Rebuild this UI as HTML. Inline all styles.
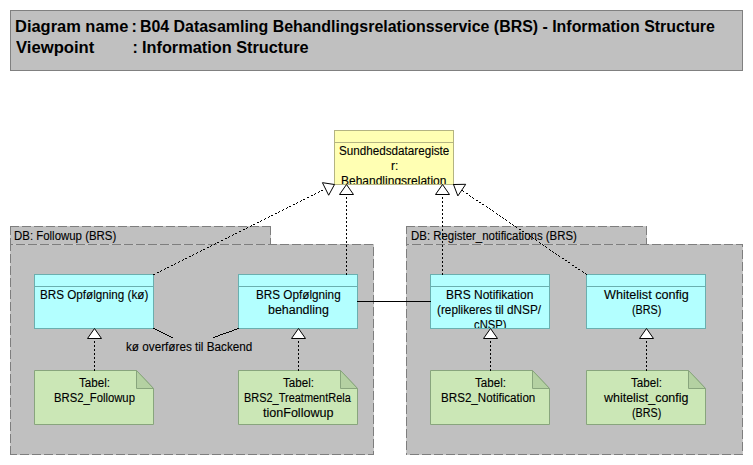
<!DOCTYPE html>
<html><head><meta charset="utf-8">
<style>
html,body{margin:0;padding:0;background:#fff;width:753px;height:465px;overflow:hidden;position:relative}
body{font-family:"Liberation Sans",sans-serif}
svg{position:absolute;left:0;top:0}
.tx,.hb{position:absolute;white-space:pre;line-height:40px;transform-origin:0 0}
.tx{font-size:12px;color:#000;-webkit-text-stroke:0.12px #000}
.hb{font-size:16px;font-weight:bold;color:#000}
.clip{position:absolute;overflow:hidden}
</style></head><body>
<svg width="753" height="465" viewBox="0 0 753 465" shape-rendering="crispEdges">
<rect x="10.5" y="10.5" width="732" height="60" fill="#c0c0c0" stroke="#808080"/>
<rect x="11" y="227" width="259" height="18" fill="#c0c0c0"/>
<rect x="11" y="245" width="362" height="209" fill="#c0c0c0"/>
<path d="M19 226h3v1h-3zM31 226h3v1h-3zM43 226h3v1h-3zM55 226h3v1h-3zM67 226h3v1h-3zM79 226h3v1h-3zM91 226h3v1h-3zM103 226h3v1h-3zM115 226h3v1h-3zM127 226h3v1h-3zM139 226h3v1h-3zM151 226h3v1h-3zM163 226h3v1h-3zM175 226h3v1h-3zM187 226h3v1h-3zM199 226h3v1h-3zM211 226h3v1h-3zM223 226h3v1h-3zM235 226h3v1h-3zM247 226h3v1h-3zM259 226h3v1h-3zM10 235h1v1h-1zM270 235h1v1h-1zM10 236h1v1h-1zM270 236h1v1h-1zM10 237h1v1h-1zM270 237h1v1h-1zM13 244h3v1h-3zM25 244h3v1h-3zM37 244h3v1h-3zM49 244h3v1h-3zM61 244h3v1h-3zM73 244h3v1h-3zM85 244h3v1h-3zM97 244h3v1h-3zM109 244h3v1h-3zM121 244h3v1h-3zM133 244h3v1h-3zM145 244h3v1h-3zM157 244h3v1h-3zM169 244h3v1h-3zM181 244h3v1h-3zM193 244h3v1h-3zM205 244h3v1h-3zM217 244h3v1h-3zM229 244h3v1h-3zM241 244h3v1h-3zM253 244h3v1h-3zM265 244h3v1h-3zM277 244h3v1h-3zM289 244h3v1h-3zM301 244h3v1h-3zM313 244h3v1h-3zM325 244h3v1h-3zM337 244h3v1h-3zM349 244h3v1h-3zM361 244h3v1h-3zM373 244h1v1h-1zM373 245h1v1h-1zM373 246h1v1h-1zM10 251h1v1h-1zM10 252h1v1h-1zM10 253h1v1h-1zM373 256h1v1h-1zM373 257h1v1h-1zM373 258h1v1h-1zM10 263h1v1h-1zM10 264h1v1h-1zM10 265h1v1h-1zM373 268h1v1h-1zM373 269h1v1h-1zM373 270h1v1h-1zM10 275h1v1h-1zM10 276h1v1h-1zM10 277h1v1h-1zM373 280h1v1h-1zM373 281h1v1h-1zM373 282h1v1h-1zM10 287h1v1h-1zM10 288h1v1h-1zM10 289h1v1h-1zM373 292h1v1h-1zM373 293h1v1h-1zM373 294h1v1h-1zM10 299h1v1h-1zM10 300h1v1h-1zM10 301h1v1h-1zM373 304h1v1h-1zM373 305h1v1h-1zM373 306h1v1h-1zM10 311h1v1h-1zM10 312h1v1h-1zM10 313h1v1h-1zM373 316h1v1h-1zM373 317h1v1h-1zM373 318h1v1h-1zM10 323h1v1h-1zM10 324h1v1h-1zM10 325h1v1h-1zM373 328h1v1h-1zM373 329h1v1h-1zM373 330h1v1h-1zM10 335h1v1h-1zM10 336h1v1h-1zM10 337h1v1h-1zM373 340h1v1h-1zM373 341h1v1h-1zM373 342h1v1h-1zM10 347h1v1h-1zM10 348h1v1h-1zM10 349h1v1h-1zM373 352h1v1h-1zM373 353h1v1h-1zM373 354h1v1h-1zM10 359h1v1h-1zM10 360h1v1h-1zM10 361h1v1h-1zM373 364h1v1h-1zM373 365h1v1h-1zM373 366h1v1h-1zM10 371h1v1h-1zM10 372h1v1h-1zM10 373h1v1h-1zM373 376h1v1h-1zM373 377h1v1h-1zM373 378h1v1h-1zM10 383h1v1h-1zM10 384h1v1h-1zM10 385h1v1h-1zM373 388h1v1h-1zM373 389h1v1h-1zM373 390h1v1h-1zM10 395h1v1h-1zM10 396h1v1h-1zM10 397h1v1h-1zM373 400h1v1h-1zM373 401h1v1h-1zM373 402h1v1h-1zM10 407h1v1h-1zM10 408h1v1h-1zM10 409h1v1h-1zM373 412h1v1h-1zM373 413h1v1h-1zM373 414h1v1h-1zM10 419h1v1h-1zM10 420h1v1h-1zM10 421h1v1h-1zM373 424h1v1h-1zM373 425h1v1h-1zM373 426h1v1h-1zM10 431h1v1h-1zM10 432h1v1h-1zM10 433h1v1h-1zM373 436h1v1h-1zM373 437h1v1h-1zM373 438h1v1h-1zM10 443h1v1h-1zM10 444h1v1h-1zM10 445h1v1h-1zM373 448h1v1h-1zM373 449h1v1h-1zM373 450h1v1h-1zM17 454h3v1h-3zM29 454h3v1h-3zM41 454h3v1h-3zM53 454h3v1h-3zM65 454h3v1h-3zM77 454h3v1h-3zM89 454h3v1h-3zM101 454h3v1h-3zM113 454h3v1h-3zM125 454h3v1h-3zM137 454h3v1h-3zM149 454h3v1h-3zM161 454h3v1h-3zM173 454h3v1h-3zM185 454h3v1h-3zM197 454h3v1h-3zM209 454h3v1h-3zM221 454h3v1h-3zM233 454h3v1h-3zM245 454h3v1h-3zM257 454h3v1h-3zM269 454h3v1h-3zM281 454h3v1h-3zM293 454h3v1h-3zM305 454h3v1h-3zM317 454h3v1h-3zM329 454h3v1h-3zM341 454h3v1h-3zM353 454h3v1h-3zM365 454h3v1h-3z" fill="#cacaca"/>
<path d="M10 226h9v1h-9zM22 226h9v1h-9zM34 226h9v1h-9zM46 226h9v1h-9zM58 226h9v1h-9zM70 226h9v1h-9zM82 226h9v1h-9zM94 226h9v1h-9zM106 226h9v1h-9zM118 226h9v1h-9zM130 226h9v1h-9zM142 226h9v1h-9zM154 226h9v1h-9zM166 226h9v1h-9zM178 226h9v1h-9zM190 226h9v1h-9zM202 226h9v1h-9zM214 226h9v1h-9zM226 226h9v1h-9zM238 226h9v1h-9zM250 226h9v1h-9zM262 226h9v1h-9zM10 227h1v1h-1zM270 227h1v1h-1zM10 228h1v1h-1zM270 228h1v1h-1zM10 229h1v1h-1zM270 229h1v1h-1zM10 230h1v1h-1zM270 230h1v1h-1zM10 231h1v1h-1zM270 231h1v1h-1zM10 232h1v1h-1zM270 232h1v1h-1zM10 233h1v1h-1zM270 233h1v1h-1zM10 234h1v1h-1zM270 234h1v1h-1zM10 238h1v1h-1zM270 238h1v1h-1zM10 239h1v1h-1zM270 239h1v1h-1zM10 240h1v1h-1zM270 240h1v1h-1zM10 241h1v1h-1zM270 241h1v1h-1zM10 242h1v1h-1zM270 242h1v1h-1zM10 243h1v1h-1zM270 243h1v1h-1zM10 244h3v1h-3zM16 244h9v1h-9zM28 244h9v1h-9zM40 244h9v1h-9zM52 244h9v1h-9zM64 244h9v1h-9zM76 244h9v1h-9zM88 244h9v1h-9zM100 244h9v1h-9zM112 244h9v1h-9zM124 244h9v1h-9zM136 244h9v1h-9zM148 244h9v1h-9zM160 244h9v1h-9zM172 244h9v1h-9zM184 244h9v1h-9zM196 244h9v1h-9zM208 244h9v1h-9zM220 244h9v1h-9zM232 244h9v1h-9zM244 244h9v1h-9zM256 244h9v1h-9zM268 244h9v1h-9zM280 244h9v1h-9zM292 244h9v1h-9zM304 244h9v1h-9zM316 244h9v1h-9zM328 244h9v1h-9zM340 244h9v1h-9zM352 244h9v1h-9zM364 244h9v1h-9zM10 245h1v1h-1zM10 246h1v1h-1zM10 247h1v1h-1zM373 247h1v1h-1zM10 248h1v1h-1zM373 248h1v1h-1zM10 249h1v1h-1zM373 249h1v1h-1zM10 250h1v1h-1zM373 250h1v1h-1zM373 251h1v1h-1zM373 252h1v1h-1zM373 253h1v1h-1zM10 254h1v1h-1zM373 254h1v1h-1zM10 255h1v1h-1zM373 255h1v1h-1zM10 256h1v1h-1zM10 257h1v1h-1zM10 258h1v1h-1zM10 259h1v1h-1zM373 259h1v1h-1zM10 260h1v1h-1zM373 260h1v1h-1zM10 261h1v1h-1zM373 261h1v1h-1zM10 262h1v1h-1zM373 262h1v1h-1zM373 263h1v1h-1zM373 264h1v1h-1zM373 265h1v1h-1zM10 266h1v1h-1zM373 266h1v1h-1zM10 267h1v1h-1zM373 267h1v1h-1zM10 268h1v1h-1zM10 269h1v1h-1zM10 270h1v1h-1zM10 271h1v1h-1zM373 271h1v1h-1zM10 272h1v1h-1zM373 272h1v1h-1zM10 273h1v1h-1zM373 273h1v1h-1zM10 274h1v1h-1zM373 274h1v1h-1zM373 275h1v1h-1zM373 276h1v1h-1zM373 277h1v1h-1zM10 278h1v1h-1zM373 278h1v1h-1zM10 279h1v1h-1zM373 279h1v1h-1zM10 280h1v1h-1zM10 281h1v1h-1zM10 282h1v1h-1zM10 283h1v1h-1zM373 283h1v1h-1zM10 284h1v1h-1zM373 284h1v1h-1zM10 285h1v1h-1zM373 285h1v1h-1zM10 286h1v1h-1zM373 286h1v1h-1zM373 287h1v1h-1zM373 288h1v1h-1zM373 289h1v1h-1zM10 290h1v1h-1zM373 290h1v1h-1zM10 291h1v1h-1zM373 291h1v1h-1zM10 292h1v1h-1zM10 293h1v1h-1zM10 294h1v1h-1zM10 295h1v1h-1zM373 295h1v1h-1zM10 296h1v1h-1zM373 296h1v1h-1zM10 297h1v1h-1zM373 297h1v1h-1zM10 298h1v1h-1zM373 298h1v1h-1zM373 299h1v1h-1zM373 300h1v1h-1zM373 301h1v1h-1zM10 302h1v1h-1zM373 302h1v1h-1zM10 303h1v1h-1zM373 303h1v1h-1zM10 304h1v1h-1zM10 305h1v1h-1zM10 306h1v1h-1zM10 307h1v1h-1zM373 307h1v1h-1zM10 308h1v1h-1zM373 308h1v1h-1zM10 309h1v1h-1zM373 309h1v1h-1zM10 310h1v1h-1zM373 310h1v1h-1zM373 311h1v1h-1zM373 312h1v1h-1zM373 313h1v1h-1zM10 314h1v1h-1zM373 314h1v1h-1zM10 315h1v1h-1zM373 315h1v1h-1zM10 316h1v1h-1zM10 317h1v1h-1zM10 318h1v1h-1zM10 319h1v1h-1zM373 319h1v1h-1zM10 320h1v1h-1zM373 320h1v1h-1zM10 321h1v1h-1zM373 321h1v1h-1zM10 322h1v1h-1zM373 322h1v1h-1zM373 323h1v1h-1zM373 324h1v1h-1zM373 325h1v1h-1zM10 326h1v1h-1zM373 326h1v1h-1zM10 327h1v1h-1zM373 327h1v1h-1zM10 328h1v1h-1zM10 329h1v1h-1zM10 330h1v1h-1zM10 331h1v1h-1zM373 331h1v1h-1zM10 332h1v1h-1zM373 332h1v1h-1zM10 333h1v1h-1zM373 333h1v1h-1zM10 334h1v1h-1zM373 334h1v1h-1zM373 335h1v1h-1zM373 336h1v1h-1zM373 337h1v1h-1zM10 338h1v1h-1zM373 338h1v1h-1zM10 339h1v1h-1zM373 339h1v1h-1zM10 340h1v1h-1zM10 341h1v1h-1zM10 342h1v1h-1zM10 343h1v1h-1zM373 343h1v1h-1zM10 344h1v1h-1zM373 344h1v1h-1zM10 345h1v1h-1zM373 345h1v1h-1zM10 346h1v1h-1zM373 346h1v1h-1zM373 347h1v1h-1zM373 348h1v1h-1zM373 349h1v1h-1zM10 350h1v1h-1zM373 350h1v1h-1zM10 351h1v1h-1zM373 351h1v1h-1zM10 352h1v1h-1zM10 353h1v1h-1zM10 354h1v1h-1zM10 355h1v1h-1zM373 355h1v1h-1zM10 356h1v1h-1zM373 356h1v1h-1zM10 357h1v1h-1zM373 357h1v1h-1zM10 358h1v1h-1zM373 358h1v1h-1zM373 359h1v1h-1zM373 360h1v1h-1zM373 361h1v1h-1zM10 362h1v1h-1zM373 362h1v1h-1zM10 363h1v1h-1zM373 363h1v1h-1zM10 364h1v1h-1zM10 365h1v1h-1zM10 366h1v1h-1zM10 367h1v1h-1zM373 367h1v1h-1zM10 368h1v1h-1zM373 368h1v1h-1zM10 369h1v1h-1zM373 369h1v1h-1zM10 370h1v1h-1zM373 370h1v1h-1zM373 371h1v1h-1zM373 372h1v1h-1zM373 373h1v1h-1zM10 374h1v1h-1zM373 374h1v1h-1zM10 375h1v1h-1zM373 375h1v1h-1zM10 376h1v1h-1zM10 377h1v1h-1zM10 378h1v1h-1zM10 379h1v1h-1zM373 379h1v1h-1zM10 380h1v1h-1zM373 380h1v1h-1zM10 381h1v1h-1zM373 381h1v1h-1zM10 382h1v1h-1zM373 382h1v1h-1zM373 383h1v1h-1zM373 384h1v1h-1zM373 385h1v1h-1zM10 386h1v1h-1zM373 386h1v1h-1zM10 387h1v1h-1zM373 387h1v1h-1zM10 388h1v1h-1zM10 389h1v1h-1zM10 390h1v1h-1zM10 391h1v1h-1zM373 391h1v1h-1zM10 392h1v1h-1zM373 392h1v1h-1zM10 393h1v1h-1zM373 393h1v1h-1zM10 394h1v1h-1zM373 394h1v1h-1zM373 395h1v1h-1zM373 396h1v1h-1zM373 397h1v1h-1zM10 398h1v1h-1zM373 398h1v1h-1zM10 399h1v1h-1zM373 399h1v1h-1zM10 400h1v1h-1zM10 401h1v1h-1zM10 402h1v1h-1zM10 403h1v1h-1zM373 403h1v1h-1zM10 404h1v1h-1zM373 404h1v1h-1zM10 405h1v1h-1zM373 405h1v1h-1zM10 406h1v1h-1zM373 406h1v1h-1zM373 407h1v1h-1zM373 408h1v1h-1zM373 409h1v1h-1zM10 410h1v1h-1zM373 410h1v1h-1zM10 411h1v1h-1zM373 411h1v1h-1zM10 412h1v1h-1zM10 413h1v1h-1zM10 414h1v1h-1zM10 415h1v1h-1zM373 415h1v1h-1zM10 416h1v1h-1zM373 416h1v1h-1zM10 417h1v1h-1zM373 417h1v1h-1zM10 418h1v1h-1zM373 418h1v1h-1zM373 419h1v1h-1zM373 420h1v1h-1zM373 421h1v1h-1zM10 422h1v1h-1zM373 422h1v1h-1zM10 423h1v1h-1zM373 423h1v1h-1zM10 424h1v1h-1zM10 425h1v1h-1zM10 426h1v1h-1zM10 427h1v1h-1zM373 427h1v1h-1zM10 428h1v1h-1zM373 428h1v1h-1zM10 429h1v1h-1zM373 429h1v1h-1zM10 430h1v1h-1zM373 430h1v1h-1zM373 431h1v1h-1zM373 432h1v1h-1zM373 433h1v1h-1zM10 434h1v1h-1zM373 434h1v1h-1zM10 435h1v1h-1zM373 435h1v1h-1zM10 436h1v1h-1zM10 437h1v1h-1zM10 438h1v1h-1zM10 439h1v1h-1zM373 439h1v1h-1zM10 440h1v1h-1zM373 440h1v1h-1zM10 441h1v1h-1zM373 441h1v1h-1zM10 442h1v1h-1zM373 442h1v1h-1zM373 443h1v1h-1zM373 444h1v1h-1zM373 445h1v1h-1zM10 446h1v1h-1zM373 446h1v1h-1zM10 447h1v1h-1zM373 447h1v1h-1zM10 448h1v1h-1zM10 449h1v1h-1zM10 450h1v1h-1zM10 451h1v1h-1zM373 451h1v1h-1zM10 452h1v1h-1zM373 452h1v1h-1zM10 453h1v1h-1zM373 453h1v1h-1zM10 454h7v1h-7zM20 454h9v1h-9zM32 454h9v1h-9zM44 454h9v1h-9zM56 454h9v1h-9zM68 454h9v1h-9zM80 454h9v1h-9zM92 454h9v1h-9zM104 454h9v1h-9zM116 454h9v1h-9zM128 454h9v1h-9zM140 454h9v1h-9zM152 454h9v1h-9zM164 454h9v1h-9zM176 454h9v1h-9zM188 454h9v1h-9zM200 454h9v1h-9zM212 454h9v1h-9zM224 454h9v1h-9zM236 454h9v1h-9zM248 454h9v1h-9zM260 454h9v1h-9zM272 454h9v1h-9zM284 454h9v1h-9zM296 454h9v1h-9zM308 454h9v1h-9zM320 454h9v1h-9zM332 454h9v1h-9zM344 454h9v1h-9zM356 454h9v1h-9zM368 454h6v1h-6z" fill="#7e7e7e"/>
<rect x="407" y="227" width="239" height="18" fill="#c0c0c0"/>
<rect x="407" y="245" width="335" height="209" fill="#c0c0c0"/>
<path d="M415 226h3v1h-3zM427 226h3v1h-3zM439 226h3v1h-3zM451 226h3v1h-3zM463 226h3v1h-3zM475 226h3v1h-3zM487 226h3v1h-3zM499 226h3v1h-3zM511 226h3v1h-3zM523 226h3v1h-3zM535 226h3v1h-3zM547 226h3v1h-3zM559 226h3v1h-3zM571 226h3v1h-3zM583 226h3v1h-3zM595 226h3v1h-3zM607 226h3v1h-3zM619 226h3v1h-3zM631 226h3v1h-3zM643 226h3v1h-3zM406 234h1v1h-1zM406 235h1v1h-1zM646 235h1v1h-1zM406 236h1v1h-1zM646 236h1v1h-1zM646 237h1v1h-1zM409 244h3v1h-3zM421 244h3v1h-3zM433 244h3v1h-3zM445 244h3v1h-3zM457 244h3v1h-3zM469 244h3v1h-3zM481 244h3v1h-3zM493 244h3v1h-3zM505 244h3v1h-3zM517 244h3v1h-3zM529 244h3v1h-3zM541 244h3v1h-3zM553 244h3v1h-3zM565 244h3v1h-3zM577 244h3v1h-3zM589 244h3v1h-3zM601 244h3v1h-3zM613 244h3v1h-3zM625 244h3v1h-3zM637 244h3v1h-3zM649 244h3v1h-3zM661 244h3v1h-3zM673 244h3v1h-3zM685 244h3v1h-3zM697 244h3v1h-3zM709 244h3v1h-3zM721 244h3v1h-3zM733 244h3v1h-3zM406 246h1v1h-1zM406 247h1v1h-1zM742 247h1v1h-1zM406 248h1v1h-1zM742 248h1v1h-1zM742 249h1v1h-1zM406 258h1v1h-1zM406 259h1v1h-1zM742 259h1v1h-1zM406 260h1v1h-1zM742 260h1v1h-1zM742 261h1v1h-1zM406 270h1v1h-1zM406 271h1v1h-1zM742 271h1v1h-1zM406 272h1v1h-1zM742 272h1v1h-1zM742 273h1v1h-1zM406 282h1v1h-1zM406 283h1v1h-1zM742 283h1v1h-1zM406 284h1v1h-1zM742 284h1v1h-1zM742 285h1v1h-1zM406 294h1v1h-1zM406 295h1v1h-1zM742 295h1v1h-1zM406 296h1v1h-1zM742 296h1v1h-1zM742 297h1v1h-1zM406 306h1v1h-1zM406 307h1v1h-1zM742 307h1v1h-1zM406 308h1v1h-1zM742 308h1v1h-1zM742 309h1v1h-1zM406 318h1v1h-1zM406 319h1v1h-1zM742 319h1v1h-1zM406 320h1v1h-1zM742 320h1v1h-1zM742 321h1v1h-1zM406 330h1v1h-1zM406 331h1v1h-1zM742 331h1v1h-1zM406 332h1v1h-1zM742 332h1v1h-1zM742 333h1v1h-1zM406 342h1v1h-1zM406 343h1v1h-1zM742 343h1v1h-1zM406 344h1v1h-1zM742 344h1v1h-1zM742 345h1v1h-1zM406 354h1v1h-1zM406 355h1v1h-1zM742 355h1v1h-1zM406 356h1v1h-1zM742 356h1v1h-1zM742 357h1v1h-1zM406 366h1v1h-1zM406 367h1v1h-1zM742 367h1v1h-1zM406 368h1v1h-1zM742 368h1v1h-1zM742 369h1v1h-1zM406 378h1v1h-1zM406 379h1v1h-1zM742 379h1v1h-1zM406 380h1v1h-1zM742 380h1v1h-1zM742 381h1v1h-1zM406 390h1v1h-1zM406 391h1v1h-1zM742 391h1v1h-1zM406 392h1v1h-1zM742 392h1v1h-1zM742 393h1v1h-1zM406 402h1v1h-1zM406 403h1v1h-1zM742 403h1v1h-1zM406 404h1v1h-1zM742 404h1v1h-1zM742 405h1v1h-1zM406 414h1v1h-1zM406 415h1v1h-1zM742 415h1v1h-1zM406 416h1v1h-1zM742 416h1v1h-1zM742 417h1v1h-1zM406 426h1v1h-1zM406 427h1v1h-1zM742 427h1v1h-1zM406 428h1v1h-1zM742 428h1v1h-1zM742 429h1v1h-1zM406 438h1v1h-1zM406 439h1v1h-1zM742 439h1v1h-1zM406 440h1v1h-1zM742 440h1v1h-1zM742 441h1v1h-1zM406 450h1v1h-1zM406 451h1v1h-1zM742 451h1v1h-1zM406 452h1v1h-1zM742 452h1v1h-1zM742 453h1v1h-1zM407 454h3v1h-3zM419 454h3v1h-3zM431 454h3v1h-3zM443 454h3v1h-3zM455 454h3v1h-3zM467 454h3v1h-3zM479 454h3v1h-3zM491 454h3v1h-3zM503 454h3v1h-3zM515 454h3v1h-3zM527 454h3v1h-3zM539 454h3v1h-3zM551 454h3v1h-3zM563 454h3v1h-3zM575 454h3v1h-3zM587 454h3v1h-3zM599 454h3v1h-3zM611 454h3v1h-3zM623 454h3v1h-3zM635 454h3v1h-3zM647 454h3v1h-3zM659 454h3v1h-3zM671 454h3v1h-3zM683 454h3v1h-3zM695 454h3v1h-3zM707 454h3v1h-3zM719 454h3v1h-3zM731 454h3v1h-3z" fill="#cacaca"/>
<path d="M406 226h9v1h-9zM418 226h9v1h-9zM430 226h9v1h-9zM442 226h9v1h-9zM454 226h9v1h-9zM466 226h9v1h-9zM478 226h9v1h-9zM490 226h9v1h-9zM502 226h9v1h-9zM514 226h9v1h-9zM526 226h9v1h-9zM538 226h9v1h-9zM550 226h9v1h-9zM562 226h9v1h-9zM574 226h9v1h-9zM586 226h9v1h-9zM598 226h9v1h-9zM610 226h9v1h-9zM622 226h9v1h-9zM634 226h9v1h-9zM646 226h1v1h-1zM406 227h1v1h-1zM646 227h1v1h-1zM406 228h1v1h-1zM646 228h1v1h-1zM406 229h1v1h-1zM646 229h1v1h-1zM406 230h1v1h-1zM646 230h1v1h-1zM406 231h1v1h-1zM646 231h1v1h-1zM406 232h1v1h-1zM646 232h1v1h-1zM406 233h1v1h-1zM646 233h1v1h-1zM646 234h1v1h-1zM406 237h1v1h-1zM406 238h1v1h-1zM646 238h1v1h-1zM406 239h1v1h-1zM646 239h1v1h-1zM406 240h1v1h-1zM646 240h1v1h-1zM406 241h1v1h-1zM646 241h1v1h-1zM406 242h1v1h-1zM646 242h1v1h-1zM406 243h1v1h-1zM646 243h1v1h-1zM406 244h3v1h-3zM412 244h9v1h-9zM424 244h9v1h-9zM436 244h9v1h-9zM448 244h9v1h-9zM460 244h9v1h-9zM472 244h9v1h-9zM484 244h9v1h-9zM496 244h9v1h-9zM508 244h9v1h-9zM520 244h9v1h-9zM532 244h9v1h-9zM544 244h9v1h-9zM556 244h9v1h-9zM568 244h9v1h-9zM580 244h9v1h-9zM592 244h9v1h-9zM604 244h9v1h-9zM616 244h9v1h-9zM628 244h9v1h-9zM640 244h9v1h-9zM652 244h9v1h-9zM664 244h9v1h-9zM676 244h9v1h-9zM688 244h9v1h-9zM700 244h9v1h-9zM712 244h9v1h-9zM724 244h9v1h-9zM736 244h7v1h-7zM406 245h1v1h-1zM742 245h1v1h-1zM742 246h1v1h-1zM406 249h1v1h-1zM406 250h1v1h-1zM742 250h1v1h-1zM406 251h1v1h-1zM742 251h1v1h-1zM406 252h1v1h-1zM742 252h1v1h-1zM406 253h1v1h-1zM742 253h1v1h-1zM406 254h1v1h-1zM742 254h1v1h-1zM406 255h1v1h-1zM742 255h1v1h-1zM406 256h1v1h-1zM742 256h1v1h-1zM406 257h1v1h-1zM742 257h1v1h-1zM742 258h1v1h-1zM406 261h1v1h-1zM406 262h1v1h-1zM742 262h1v1h-1zM406 263h1v1h-1zM742 263h1v1h-1zM406 264h1v1h-1zM742 264h1v1h-1zM406 265h1v1h-1zM742 265h1v1h-1zM406 266h1v1h-1zM742 266h1v1h-1zM406 267h1v1h-1zM742 267h1v1h-1zM406 268h1v1h-1zM742 268h1v1h-1zM406 269h1v1h-1zM742 269h1v1h-1zM742 270h1v1h-1zM406 273h1v1h-1zM406 274h1v1h-1zM742 274h1v1h-1zM406 275h1v1h-1zM742 275h1v1h-1zM406 276h1v1h-1zM742 276h1v1h-1zM406 277h1v1h-1zM742 277h1v1h-1zM406 278h1v1h-1zM742 278h1v1h-1zM406 279h1v1h-1zM742 279h1v1h-1zM406 280h1v1h-1zM742 280h1v1h-1zM406 281h1v1h-1zM742 281h1v1h-1zM742 282h1v1h-1zM406 285h1v1h-1zM406 286h1v1h-1zM742 286h1v1h-1zM406 287h1v1h-1zM742 287h1v1h-1zM406 288h1v1h-1zM742 288h1v1h-1zM406 289h1v1h-1zM742 289h1v1h-1zM406 290h1v1h-1zM742 290h1v1h-1zM406 291h1v1h-1zM742 291h1v1h-1zM406 292h1v1h-1zM742 292h1v1h-1zM406 293h1v1h-1zM742 293h1v1h-1zM742 294h1v1h-1zM406 297h1v1h-1zM406 298h1v1h-1zM742 298h1v1h-1zM406 299h1v1h-1zM742 299h1v1h-1zM406 300h1v1h-1zM742 300h1v1h-1zM406 301h1v1h-1zM742 301h1v1h-1zM406 302h1v1h-1zM742 302h1v1h-1zM406 303h1v1h-1zM742 303h1v1h-1zM406 304h1v1h-1zM742 304h1v1h-1zM406 305h1v1h-1zM742 305h1v1h-1zM742 306h1v1h-1zM406 309h1v1h-1zM406 310h1v1h-1zM742 310h1v1h-1zM406 311h1v1h-1zM742 311h1v1h-1zM406 312h1v1h-1zM742 312h1v1h-1zM406 313h1v1h-1zM742 313h1v1h-1zM406 314h1v1h-1zM742 314h1v1h-1zM406 315h1v1h-1zM742 315h1v1h-1zM406 316h1v1h-1zM742 316h1v1h-1zM406 317h1v1h-1zM742 317h1v1h-1zM742 318h1v1h-1zM406 321h1v1h-1zM406 322h1v1h-1zM742 322h1v1h-1zM406 323h1v1h-1zM742 323h1v1h-1zM406 324h1v1h-1zM742 324h1v1h-1zM406 325h1v1h-1zM742 325h1v1h-1zM406 326h1v1h-1zM742 326h1v1h-1zM406 327h1v1h-1zM742 327h1v1h-1zM406 328h1v1h-1zM742 328h1v1h-1zM406 329h1v1h-1zM742 329h1v1h-1zM742 330h1v1h-1zM406 333h1v1h-1zM406 334h1v1h-1zM742 334h1v1h-1zM406 335h1v1h-1zM742 335h1v1h-1zM406 336h1v1h-1zM742 336h1v1h-1zM406 337h1v1h-1zM742 337h1v1h-1zM406 338h1v1h-1zM742 338h1v1h-1zM406 339h1v1h-1zM742 339h1v1h-1zM406 340h1v1h-1zM742 340h1v1h-1zM406 341h1v1h-1zM742 341h1v1h-1zM742 342h1v1h-1zM406 345h1v1h-1zM406 346h1v1h-1zM742 346h1v1h-1zM406 347h1v1h-1zM742 347h1v1h-1zM406 348h1v1h-1zM742 348h1v1h-1zM406 349h1v1h-1zM742 349h1v1h-1zM406 350h1v1h-1zM742 350h1v1h-1zM406 351h1v1h-1zM742 351h1v1h-1zM406 352h1v1h-1zM742 352h1v1h-1zM406 353h1v1h-1zM742 353h1v1h-1zM742 354h1v1h-1zM406 357h1v1h-1zM406 358h1v1h-1zM742 358h1v1h-1zM406 359h1v1h-1zM742 359h1v1h-1zM406 360h1v1h-1zM742 360h1v1h-1zM406 361h1v1h-1zM742 361h1v1h-1zM406 362h1v1h-1zM742 362h1v1h-1zM406 363h1v1h-1zM742 363h1v1h-1zM406 364h1v1h-1zM742 364h1v1h-1zM406 365h1v1h-1zM742 365h1v1h-1zM742 366h1v1h-1zM406 369h1v1h-1zM406 370h1v1h-1zM742 370h1v1h-1zM406 371h1v1h-1zM742 371h1v1h-1zM406 372h1v1h-1zM742 372h1v1h-1zM406 373h1v1h-1zM742 373h1v1h-1zM406 374h1v1h-1zM742 374h1v1h-1zM406 375h1v1h-1zM742 375h1v1h-1zM406 376h1v1h-1zM742 376h1v1h-1zM406 377h1v1h-1zM742 377h1v1h-1zM742 378h1v1h-1zM406 381h1v1h-1zM406 382h1v1h-1zM742 382h1v1h-1zM406 383h1v1h-1zM742 383h1v1h-1zM406 384h1v1h-1zM742 384h1v1h-1zM406 385h1v1h-1zM742 385h1v1h-1zM406 386h1v1h-1zM742 386h1v1h-1zM406 387h1v1h-1zM742 387h1v1h-1zM406 388h1v1h-1zM742 388h1v1h-1zM406 389h1v1h-1zM742 389h1v1h-1zM742 390h1v1h-1zM406 393h1v1h-1zM406 394h1v1h-1zM742 394h1v1h-1zM406 395h1v1h-1zM742 395h1v1h-1zM406 396h1v1h-1zM742 396h1v1h-1zM406 397h1v1h-1zM742 397h1v1h-1zM406 398h1v1h-1zM742 398h1v1h-1zM406 399h1v1h-1zM742 399h1v1h-1zM406 400h1v1h-1zM742 400h1v1h-1zM406 401h1v1h-1zM742 401h1v1h-1zM742 402h1v1h-1zM406 405h1v1h-1zM406 406h1v1h-1zM742 406h1v1h-1zM406 407h1v1h-1zM742 407h1v1h-1zM406 408h1v1h-1zM742 408h1v1h-1zM406 409h1v1h-1zM742 409h1v1h-1zM406 410h1v1h-1zM742 410h1v1h-1zM406 411h1v1h-1zM742 411h1v1h-1zM406 412h1v1h-1zM742 412h1v1h-1zM406 413h1v1h-1zM742 413h1v1h-1zM742 414h1v1h-1zM406 417h1v1h-1zM406 418h1v1h-1zM742 418h1v1h-1zM406 419h1v1h-1zM742 419h1v1h-1zM406 420h1v1h-1zM742 420h1v1h-1zM406 421h1v1h-1zM742 421h1v1h-1zM406 422h1v1h-1zM742 422h1v1h-1zM406 423h1v1h-1zM742 423h1v1h-1zM406 424h1v1h-1zM742 424h1v1h-1zM406 425h1v1h-1zM742 425h1v1h-1zM742 426h1v1h-1zM406 429h1v1h-1zM406 430h1v1h-1zM742 430h1v1h-1zM406 431h1v1h-1zM742 431h1v1h-1zM406 432h1v1h-1zM742 432h1v1h-1zM406 433h1v1h-1zM742 433h1v1h-1zM406 434h1v1h-1zM742 434h1v1h-1zM406 435h1v1h-1zM742 435h1v1h-1zM406 436h1v1h-1zM742 436h1v1h-1zM406 437h1v1h-1zM742 437h1v1h-1zM742 438h1v1h-1zM406 441h1v1h-1zM406 442h1v1h-1zM742 442h1v1h-1zM406 443h1v1h-1zM742 443h1v1h-1zM406 444h1v1h-1zM742 444h1v1h-1zM406 445h1v1h-1zM742 445h1v1h-1zM406 446h1v1h-1zM742 446h1v1h-1zM406 447h1v1h-1zM742 447h1v1h-1zM406 448h1v1h-1zM742 448h1v1h-1zM406 449h1v1h-1zM742 449h1v1h-1zM742 450h1v1h-1zM406 453h1v1h-1zM406 454h1v1h-1zM410 454h9v1h-9zM422 454h9v1h-9zM434 454h9v1h-9zM446 454h9v1h-9zM458 454h9v1h-9zM470 454h9v1h-9zM482 454h9v1h-9zM494 454h9v1h-9zM506 454h9v1h-9zM518 454h9v1h-9zM530 454h9v1h-9zM542 454h9v1h-9zM554 454h9v1h-9zM566 454h9v1h-9zM578 454h9v1h-9zM590 454h9v1h-9zM602 454h9v1h-9zM614 454h9v1h-9zM626 454h9v1h-9zM638 454h9v1h-9zM650 454h9v1h-9zM662 454h9v1h-9zM674 454h9v1h-9zM686 454h9v1h-9zM698 454h9v1h-9zM710 454h9v1h-9zM722 454h9v1h-9zM734 454h9v1h-9z" fill="#7e7e7e"/>
<rect x="334.5" y="130.5" width="119" height="54" fill="#ffffb3" stroke="#b4b482"/>
<line x1="334.5" y1="142.5" x2="453.5" y2="142.5" stroke="#b4b482"/>
<rect x="34.5" y="274.5" width="119" height="54" fill="#b3ffff" stroke="#6aafaf"/>
<line x1="34.5" y1="286.5" x2="153.5" y2="286.5" stroke="#6aafaf"/>
<rect x="238.5" y="274.5" width="119" height="54" fill="#b3ffff" stroke="#6aafaf"/>
<line x1="238.5" y1="286.5" x2="357.5" y2="286.5" stroke="#6aafaf"/>
<rect x="430.5" y="274.5" width="119" height="54" fill="#b3ffff" stroke="#6aafaf"/>
<line x1="430.5" y1="286.5" x2="549.5" y2="286.5" stroke="#6aafaf"/>
<rect x="586.5" y="274.5" width="119" height="54" fill="#b3ffff" stroke="#6aafaf"/>
<line x1="586.5" y1="286.5" x2="705.5" y2="286.5" stroke="#6aafaf"/>
<path d="M34.5 370.5 H136.5 L153.5 388.5 V424.5 H34.5 Z" fill="#cbe7b6" stroke="#88a57d" shape-rendering="geometricPrecision"/>
<path d="M136.5 370.5 V388.5 H153.5 Z" fill="#b4d1a2" stroke="#88a57d" shape-rendering="geometricPrecision"/>
<path d="M238.5 370.5 H340.5 L357.5 388.5 V424.5 H238.5 Z" fill="#cbe7b6" stroke="#88a57d" shape-rendering="geometricPrecision"/>
<path d="M340.5 370.5 V388.5 H357.5 Z" fill="#b4d1a2" stroke="#88a57d" shape-rendering="geometricPrecision"/>
<path d="M430.5 370.5 H532.5 L549.5 388.5 V424.5 H430.5 Z" fill="#cbe7b6" stroke="#88a57d" shape-rendering="geometricPrecision"/>
<path d="M532.5 370.5 V388.5 H549.5 Z" fill="#b4d1a2" stroke="#88a57d" shape-rendering="geometricPrecision"/>
<path d="M586.5 370.5 H688.5 L705.5 388.5 V424.5 H586.5 Z" fill="#cbe7b6" stroke="#88a57d" shape-rendering="geometricPrecision"/>
<path d="M688.5 370.5 V388.5 H705.5 Z" fill="#b4d1a2" stroke="#88a57d" shape-rendering="geometricPrecision"/>
</svg>
<div class="hb" style="left:14.97px;top:7px;transform:scaleX(1.0278)">Diagram name</div>
<div class="hb" style="left:131.50px;top:7px;transform:scaleX(1.0000)">:</div>
<div class="hb" style="left:140.01px;top:7px;transform:scaleX(0.9948)">B04 Datasamling Behandlingsrelationsservice (BRS) - Information Structure</div>
<div class="hb" style="left:16.00px;top:28px;transform:scaleX(1.0405)">Viewpoint</div>
<div class="hb" style="left:132.50px;top:28px;transform:scaleX(1.0000)">:</div>
<div class="hb" style="left:141.98px;top:28px;transform:scaleX(1.0186)">Information Structure</div>
<div class="tx" style="left:14.05px;top:216px;transform:scaleX(0.9524)">DB: Followup (BRS)</div>
<div class="tx" style="left:411.05px;top:216px;transform:scaleX(0.9532)">DB: Register_notifications (BRS)</div>
<div class="tx" style="left:339.03px;top:131px;transform:scaleX(0.9730)">Sundhedsdataregiste</div>
<div class="tx" style="left:391.00px;top:146px;transform:scaleX(1.0000)">r:</div>
<div class="clip" style="left:335px;top:143px;width:118px;height:41px"><div class="tx" style="left:6.00px;top:18px;transform:scaleX(1.0000)">Behandlingsrelation</div></div>
<div class="tx" style="left:40.03px;top:275px;transform:scaleX(0.9725)">BRS Opfølgning (kø)</div>
<div class="tx" style="left:256.02px;top:275px;transform:scaleX(0.9762)">BRS Opfølgning</div>
<div class="tx" style="left:267.96px;top:290px;transform:scaleX(1.0357)">behandling</div>
<div class="tx" style="left:446.00px;top:275px;transform:scaleX(1.0000)">BRS Notifikation</div>
<div class="tx" style="left:437.02px;top:290px;transform:scaleX(0.9808)">(replikeres til dNSP/</div>
<div class="clip" style="left:431px;top:287px;width:118px;height:41px"><div class="tx" style="left:43.06px;top:18px;transform:scaleX(0.9375)">cNSP)</div></div>
<div class="tx" style="left:604.00px;top:275px;transform:scaleX(1.0506)">Whitelist config</div>
<div class="tx" style="left:632.10px;top:290px;transform:scaleX(0.9000)">(BRS)</div>
<div class="tx" style="left:79.00px;top:363px;transform:scaleX(0.9667)">Tabel:</div>
<div class="tx" style="left:54.06px;top:378px;transform:scaleX(0.9405)">BRS2_Followup</div>
<div class="tx" style="left:283.00px;top:363px;transform:scaleX(0.9667)">Tabel:</div>
<div class="tx" style="left:244.09px;top:378px;transform:scaleX(0.9130)">BRS2_TreatmentRela</div>
<div class="tx" style="left:263.00px;top:393px;transform:scaleX(1.0455)">tionFollowup</div>
<div class="tx" style="left:475.00px;top:363px;transform:scaleX(0.9667)">Tabel:</div>
<div class="tx" style="left:441.03px;top:378px;transform:scaleX(0.9684)">BRS2_Notification</div>
<div class="tx" style="left:631.00px;top:363px;transform:scaleX(0.9667)">Tabel:</div>
<div class="tx" style="left:604.00px;top:378px;transform:scaleX(1.0375)">whitelist_config</div>
<div class="tx" style="left:632.10px;top:393px;transform:scaleX(0.9000)">(BRS)</div>
<div class="tx" style="left:126.02px;top:327px;transform:scaleX(0.9764)">kø overføres til Backend</div>
<svg width="753" height="465" viewBox="0 0 753 465" shape-rendering="crispEdges">
<path d="M333 184h1v1h-1zM453 184h1v1h-1zM332 185h1v1h-1zM329 186h2v1h-2zM456 186h1v1h-1zM457 187h1v1h-1zM325 188h2v1h-2zM459 188h1v1h-1zM460 189h1v1h-1zM321 190h2v1h-2zM462 190h1v1h-1zM319 191h1v1h-1zM463 191h1v1h-1zM318 192h1v1h-1zM315 193h1v1h-1zM466 193h2v1h-2zM314 194h1v1h-1zM311 195h2v1h-2zM469 195h1v1h-1zM470 196h1v1h-1zM307 197h2v1h-2zM346 197h1v1h-1zM442 197h1v1h-1zM472 197h1v1h-1zM346 198h1v1h-1zM442 198h1v1h-1zM473 198h1v1h-1zM303 199h2v1h-2zM301 200h1v1h-1zM476 200h2v1h-2zM300 201h1v1h-1zM346 201h1v1h-1zM442 201h1v1h-1zM297 202h1v1h-1zM346 202h1v1h-1zM442 202h1v1h-1zM479 202h2v1h-2zM296 203h1v1h-1zM293 204h2v1h-2zM482 204h2v1h-2zM346 205h1v1h-1zM442 205h1v1h-1zM289 206h2v1h-2zM346 206h1v1h-1zM442 206h1v1h-1zM486 206h1v1h-1zM287 207h1v1h-1zM487 207h1v1h-1zM286 208h1v1h-1zM489 208h1v1h-1zM283 209h1v1h-1zM346 209h1v1h-1zM442 209h1v1h-1zM490 209h1v1h-1zM282 210h1v1h-1zM346 210h1v1h-1zM442 210h1v1h-1zM492 210h1v1h-1zM279 211h1v1h-1zM493 211h1v1h-1zM278 212h1v1h-1zM275 213h2v1h-2zM346 213h1v1h-1zM442 213h1v1h-1zM496 213h1v1h-1zM346 214h1v1h-1zM442 214h1v1h-1zM497 214h1v1h-1zM271 215h2v1h-2zM499 215h1v1h-1zM269 216h1v1h-1zM500 216h1v1h-1zM268 217h1v1h-1zM346 217h1v1h-1zM442 217h1v1h-1zM502 217h1v1h-1zM265 218h1v1h-1zM346 218h1v1h-1zM442 218h1v1h-1zM503 218h1v1h-1zM264 219h1v1h-1zM505 219h1v1h-1zM261 220h1v1h-1zM506 220h1v1h-1zM260 221h1v1h-1zM346 221h1v1h-1zM442 221h1v1h-1zM257 222h2v1h-2zM346 222h1v1h-1zM442 222h1v1h-1zM509 222h1v1h-1zM510 223h1v1h-1zM253 224h2v1h-2zM512 224h1v1h-1zM251 225h1v1h-1zM346 225h1v1h-1zM442 225h1v1h-1zM513 225h1v1h-1zM250 226h1v1h-1zM346 226h1v1h-1zM442 226h1v1h-1zM515 226h1v1h-1zM247 227h1v1h-1zM516 227h1v1h-1zM246 228h1v1h-1zM243 229h2v1h-2zM346 229h1v1h-1zM442 229h1v1h-1zM519 229h2v1h-2zM346 230h1v1h-1zM442 230h1v1h-1zM239 231h2v1h-2zM522 231h2v1h-2zM235 233h2v1h-2zM346 233h1v1h-1zM442 233h1v1h-1zM525 233h2v1h-2zM233 234h1v1h-1zM346 234h1v1h-1zM442 234h1v1h-1zM232 235h1v1h-1zM529 235h1v1h-1zM229 236h1v1h-1zM530 236h1v1h-1zM228 237h1v1h-1zM346 237h1v1h-1zM442 237h1v1h-1zM532 237h1v1h-1zM225 238h2v1h-2zM346 238h1v1h-1zM442 238h1v1h-1zM533 238h1v1h-1zM535 239h1v1h-1zM221 240h2v1h-2zM536 240h1v1h-1zM346 241h1v1h-1zM442 241h1v1h-1zM217 242h2v1h-2zM346 242h1v1h-1zM442 242h1v1h-1zM539 242h1v1h-1zM215 243h1v1h-1zM540 243h1v1h-1zM214 244h1v1h-1zM542 244h1v1h-1zM211 245h1v1h-1zM346 245h1v1h-1zM442 245h1v1h-1zM543 245h1v1h-1zM210 246h1v1h-1zM346 246h1v1h-1zM442 246h1v1h-1zM545 246h1v1h-1zM207 247h2v1h-2zM546 247h1v1h-1zM203 249h2v1h-2zM346 249h1v1h-1zM442 249h1v1h-1zM549 249h1v1h-1zM201 250h1v1h-1zM346 250h1v1h-1zM442 250h1v1h-1zM550 250h1v1h-1zM200 251h1v1h-1zM552 251h1v1h-1zM197 252h1v1h-1zM553 252h1v1h-1zM196 253h1v1h-1zM346 253h1v1h-1zM442 253h1v1h-1zM555 253h1v1h-1zM193 254h1v1h-1zM346 254h1v1h-1zM442 254h1v1h-1zM556 254h1v1h-1zM192 255h1v1h-1zM558 255h1v1h-1zM189 256h2v1h-2zM559 256h1v1h-1zM346 257h1v1h-1zM442 257h1v1h-1zM185 258h2v1h-2zM346 258h1v1h-1zM442 258h1v1h-1zM562 258h2v1h-2zM183 259h1v1h-1zM182 260h1v1h-1zM565 260h2v1h-2zM179 261h1v1h-1zM346 261h1v1h-1zM442 261h1v1h-1zM178 262h1v1h-1zM346 262h1v1h-1zM442 262h1v1h-1zM568 262h2v1h-2zM175 263h1v1h-1zM174 264h1v1h-1zM171 265h2v1h-2zM346 265h1v1h-1zM442 265h1v1h-1zM572 265h2v1h-2zM346 266h1v1h-1zM442 266h1v1h-1zM167 267h2v1h-2zM575 267h2v1h-2zM165 268h1v1h-1zM164 269h1v1h-1zM346 269h1v1h-1zM442 269h1v1h-1zM578 269h2v1h-2zM161 270h1v1h-1zM346 270h1v1h-1zM442 270h1v1h-1zM160 271h1v1h-1zM582 271h1v1h-1zM157 272h2v1h-2zM583 272h1v1h-1zM346 273h1v1h-1zM442 273h1v1h-1zM585 273h1v1h-1zM153 274h2v1h-2zM346 274h1v1h-1zM442 274h1v1h-1zM586 274h1v1h-1zM357 301h74v1h-74zM153 328h2v1h-2zM237 328h2v1h-2zM155 329h2v1h-2zM234 329h3v1h-3zM157 330h2v1h-2zM232 330h2v1h-2zM159 331h2v1h-2zM229 331h3v1h-3zM161 332h2v1h-2zM226 332h3v1h-3zM163 333h2v1h-2zM223 333h3v1h-3zM165 334h2v1h-2zM220 334h3v1h-3zM167 335h2v1h-2zM218 335h2v1h-2zM169 336h2v1h-2zM215 336h3v1h-3zM171 337h2v1h-2zM213 337h2v1h-2zM94 341h1v1h-1zM298 341h1v1h-1zM490 341h1v1h-1zM646 341h1v1h-1zM94 342h1v1h-1zM298 342h1v1h-1zM490 342h1v1h-1zM646 342h1v1h-1zM94 345h1v1h-1zM298 345h1v1h-1zM490 345h1v1h-1zM646 345h1v1h-1zM94 346h1v1h-1zM298 346h1v1h-1zM490 346h1v1h-1zM646 346h1v1h-1zM94 349h1v1h-1zM298 349h1v1h-1zM490 349h1v1h-1zM646 349h1v1h-1zM94 350h1v1h-1zM298 350h1v1h-1zM490 350h1v1h-1zM646 350h1v1h-1zM94 353h1v1h-1zM298 353h1v1h-1zM490 353h1v1h-1zM646 353h1v1h-1zM94 354h1v1h-1zM298 354h1v1h-1zM490 354h1v1h-1zM646 354h1v1h-1zM94 357h1v1h-1zM298 357h1v1h-1zM490 357h1v1h-1zM646 357h1v1h-1zM94 358h1v1h-1zM298 358h1v1h-1zM490 358h1v1h-1zM646 358h1v1h-1zM94 361h1v1h-1zM298 361h1v1h-1zM490 361h1v1h-1zM646 361h1v1h-1zM94 362h1v1h-1zM298 362h1v1h-1zM490 362h1v1h-1zM646 362h1v1h-1zM94 365h1v1h-1zM298 365h1v1h-1zM490 365h1v1h-1zM646 365h1v1h-1zM94 366h1v1h-1zM298 366h1v1h-1zM490 366h1v1h-1zM646 366h1v1h-1zM94 369h1v1h-1zM298 369h1v1h-1zM490 369h1v1h-1zM646 369h1v1h-1zM94 370h1v1h-1zM298 370h1v1h-1zM490 370h1v1h-1zM646 370h1v1h-1z" fill="#000"/>
</svg>
<svg width="753" height="465" viewBox="0 0 753 465"><g stroke="#000" fill="#fff" stroke-width="1">
<path d="M94.5 328.5 L101.5 338.5 L87.5 338.5 Z"/>
<path d="M298.5 328.5 L305.5 338.5 L291.5 338.5 Z"/>
<path d="M490.5 328.5 L497.5 338.5 L483.5 338.5 Z"/>
<path d="M646.5 328.5 L653.5 338.5 L639.5 338.5 Z"/>
<path d="M346.5 184.5 L353.5 194.5 L339.5 194.5 Z"/>
<path d="M442.5 184.5 L449.5 194.5 L435.5 194.5 Z"/>
<path d="M334.50 184.50 L328.66 195.22 L322.43 182.68 Z"/>
<path d="M453.50 184.50 L465.71 184.31 L457.86 195.90 Z"/>
</g></svg>
</body></html>
